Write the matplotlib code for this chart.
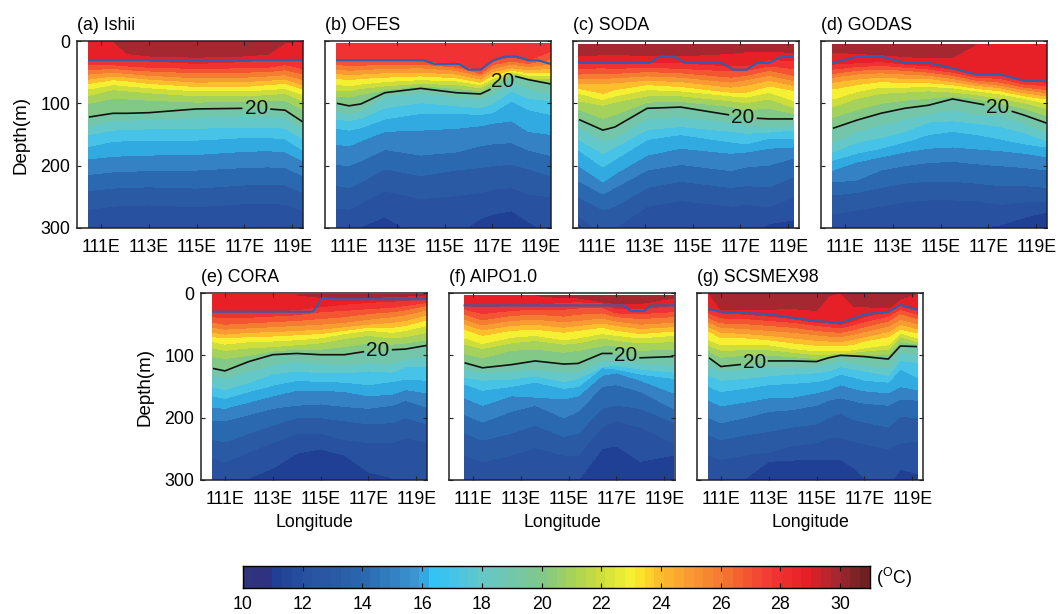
import numpy as np
import matplotlib
matplotlib.use('Agg')
import matplotlib.pyplot as plt
from matplotlib.colors import LinearSegmentedColormap, ListedColormap, BoundaryNorm

plt.rcParams['font.family'] = ['Liberation Sans', 'DejaVu Sans']
plt.rcParams['mathtext.default'] = 'regular'

FIG_W, FIG_H = 1059, 614
FS = 12.8

# isotherm levels of the table rows, from warm (top) to cold (bottom)
LEVELS = [30, 29, 28, 27, 26, 25, 24, 23, 22, 21, 20, 19, 18, 17, 16, 15, 14, 13, 12]

A_LON = [110.5, 111.5, 112.1, 113, 115, 117, 118, 118.7, 119.45]
A_DEPTH = [
    [0, 0, 20, 24, 26, 24, 21, 3, 0],
    [29, 29, 30, 32, 36, 33, 30, 29, 29],
    [38, 38, 40, 42, 44, 43, 42, 38, 44],
    [46, 44, 46, 48, 51, 50, 49, 46, 53],
    [53, 50, 52, 55, 59, 58, 56, 54, 62],
    [61, 56, 58, 61, 66, 65, 63, 61, 70],
    [68, 62, 64, 68, 73, 73, 70, 68, 77],
    [77, 70, 72, 75, 80, 80, 78, 76, 86],
    [87, 78, 80, 83, 88, 88, 86, 84, 96],
    [100, 92, 93, 95, 98, 97, 96, 95, 110],
    [122, 116, 116, 115, 109, 108, 109, 111, 130],
    [136, 128, 127, 126, 122, 120, 121, 122, 142],
    [150, 143, 142, 141, 140, 138, 138, 140, 157],
    [169, 161, 160, 160, 159, 155, 155, 157, 175],
    [189, 185, 184, 183, 182, 177, 176, 178, 192],
    [214, 210, 209, 208, 207, 203, 202, 203, 216],
    [240, 236, 235, 234, 236, 231, 230, 231, 243],
    [270, 265, 264, 263, 266, 261, 260, 262, 272],
    [325, 325, 325, 325, 325, 325, 325, 325, 325],
]
A_MLD_LON = [110.5, 119.45]
A_MLD = [30, 30]

B_LON = [110.5, 111, 111.5, 112.5, 114, 115.5, 116.5, 117, 117.8, 118.5, 119.45]
B_DEPTH = [
    [0, 0, 0, 0, 0, 0, 0, 0, 0, 0, 0],
    [0, 0, 0, 0, 0, 0, 0, 0, 0, 0, 0],
    [31, 31, 31, 31, 31, 37, 47, 32, 25, 31, 16],
    [38, 39, 39, 37, 37, 42, 52, 38, 32, 36, 29],
    [45, 47, 46, 44, 43, 47, 56, 44, 37, 41, 37],
    [52, 54, 53, 51, 50, 53, 61, 49, 43, 46, 44],
    [60, 62, 60, 58, 56, 59, 66, 55, 47, 51, 51],
    [69, 72, 69, 65, 62, 64, 70, 60, 49, 55, 56],
    [79, 80, 76, 72, 68, 70, 75, 65, 52, 59, 61],
    [89, 90, 86, 78, 72, 76, 80, 70, 53, 61, 67],
    [100, 104, 101, 83, 76, 83, 85, 76, 55, 62, 69],
    [113, 117, 112, 89, 83, 90, 92, 85, 67, 76, 85],
    [125, 128, 124, 107, 99, 104, 107, 100, 80, 92, 96],
    [140, 143, 139, 125, 116, 116, 118, 115, 96, 110, 118],
    [166, 168, 160, 145, 143, 140, 136, 132, 128, 145, 150],
    [198, 200, 192, 174, 183, 178, 168, 165, 163, 175, 184],
    [232, 235, 226, 205, 216, 207, 203, 200, 198, 205, 216],
    [268, 270, 260, 240, 253, 248, 243, 238, 235, 245, 250],
    [320, 320, 298, 282, 315, 310, 285, 278, 272, 290, 310],
]
B_MLD_LON = [110.5, 114.1, 114.6, 115.6, 116, 116.5, 117, 117.5, 118, 118.5, 118.9, 119.45]
B_MLD = [31, 31, 37, 37, 46, 46, 32, 25, 25, 31, 31, 37]

C_LON = [110.25, 111.25, 111.75, 113.1, 114.5, 116.6, 117.25, 118.2, 119.2]
C_DEPTH = [
    [24, 22, 22, 23, 24, 20, 17, 17, 18],
    [36, 35, 36, 34, 35, 40, 40, 30, 31],
    [44, 43, 44, 42, 44, 48, 47, 40, 44],
    [53, 52, 52, 49, 51, 58, 55, 47, 55],
    [60, 60, 59, 56, 58, 66, 62, 55, 63],
    [68, 68, 67, 63, 65, 74, 71, 63, 71],
    [76, 84, 78, 70, 73, 82, 82, 72, 79],
    [84, 94, 88, 78, 80, 88, 90, 82, 95],
    [96, 103, 98, 88, 88, 96, 99, 93, 106],
    [110, 124, 118, 98, 97, 105, 110, 108, 116],
    [126, 143, 138, 108, 106, 119, 123, 125, 125],
    [138, 159, 155, 124, 121, 131, 135, 138, 135],
    [158, 180, 170, 142, 137, 145, 148, 146, 143],
    [175, 202, 190, 158, 150, 162, 165, 156, 156],
    [200, 226, 213, 183, 172, 180, 178, 172, 170],
    [225, 245, 235, 207, 198, 208, 202, 199, 188],
    [250, 271, 265, 235, 225, 235, 232, 234, 218],
    [280, 310, 300, 265, 256, 265, 262, 266, 250],
    [293, 330, 330, 315, 310, 310, 310, 293, 287],
]
C_MLD_LON = [110.25, 113.2, 113.6, 114.2, 114.7, 116.2, 116.7, 117.25, 117.7, 118.2, 118.7, 119.2]
C_MLD = [35, 35, 25, 25, 35, 35, 46, 46, 35, 35, 25, 25]

D_LON = [110.5, 111.5, 112.5, 113.5, 114.5, 115.5, 116.5, 117.5, 118.5, 119.45]
D_DEPTH = [
    [18, 20, 22, 25, 27, 26, 0, 0, 0, 0],
    [37, 35, 33, 37, 40, 45, 53, 54, 64, 66],
    [45, 41, 39, 42, 45, 50, 58, 60, 69, 72],
    [52, 47, 45, 47, 50, 55, 63, 66, 74, 78],
    [58, 53, 51, 53, 55, 60, 67, 71, 78, 83],
    [66, 61, 58, 60, 60, 65, 71, 75, 83, 88],
    [77, 70, 65, 67, 67, 70, 76, 80, 88, 93],
    [93, 81, 74, 74, 73, 75, 80, 85, 92, 100],
    [105, 92, 84, 82, 80, 82, 86, 92, 99, 108],
    [122, 110, 100, 95, 92, 88, 93, 100, 108, 120],
    [140, 127, 116, 108, 103, 93, 100, 107, 119, 132],
    [162, 145, 135, 125, 117, 110, 118, 120, 132, 147],
    [178, 162, 155, 145, 130, 128, 132, 137, 147, 160],
    [191, 180, 172, 162, 150, 145, 150, 157, 165, 170],
    [207, 194, 186, 178, 172, 170, 173, 176, 180, 186],
    [226, 223, 207, 200, 195, 193, 197, 200, 203, 207],
    [247, 243, 235, 228, 225, 225, 228, 232, 232, 235],
    [277, 271, 265, 258, 255, 255, 256, 262, 258, 258],
    [314, 309, 305, 305, 305, 305, 300, 295, 283, 274],
]
D_MLD_LON = D_LON
D_MLD = [35, 25, 25, 35, 35, 44, 54, 54, 64, 64]

E_LON = [110.5, 111, 112, 113, 114, 115, 116, 117, 118, 118.55, 119.45]
E_DEPTH = [
    [0, 0, 0, 0, 2, 7, 8, 7, 6, 5, 0],
    [29, 30, 30, 28, 27, 22, 18, 15, 13, 12, 8],
    [38, 40, 39, 37, 35, 30, 28, 25, 23, 20, 15],
    [47, 50, 48, 46, 44, 41, 38, 33, 30, 27, 20],
    [55, 58, 56, 54, 52, 50, 47, 42, 38, 35, 27],
    [63, 66, 63, 62, 60, 58, 54, 50, 47, 44, 35],
    [70, 72, 70, 69, 67, 65, 60, 55, 55, 52, 43],
    [78, 82, 78, 77, 75, 72, 65, 60, 63, 60, 52],
    [88, 92, 88, 86, 83, 80, 73, 68, 72, 70, 63],
    [102, 105, 100, 93, 90, 90, 86, 80, 82, 80, 75],
    [121, 125, 110, 99, 97, 99, 99, 93, 91, 90, 84],
    [132, 137, 125, 115, 110, 113, 115, 112, 113, 105, 102],
    [150, 155, 143, 130, 125, 128, 128, 125, 127, 118, 118],
    [165, 169, 158, 148, 140, 142, 143, 147, 142, 138, 140],
    [183, 185, 175, 165, 156, 156, 158, 165, 162, 155, 160],
    [205, 205, 195, 185, 180, 178, 182, 185, 180, 172, 183],
    [235, 239, 225, 212, 200, 200, 205, 210, 208, 200, 210],
    [265, 271, 255, 240, 225, 225, 235, 240, 240, 232, 240],
    [320, 320, 297, 281, 257, 250, 260, 287, 297, 310, 310],
]
E_MLD_LON = [110.5, 114.65, 114.8, 115, 115.1, 115.5, 119.45]
E_MLD = [30, 30, 24, 11, 8, 10, 10]

F_LON = [110.65, 111.4, 112.6, 113.6, 114.8, 115.4, 116.4, 117, 118, 119.38]
F_DEPTH = [
    [0, 0, 0, 0, 8, 8, 14, 17, 17, 8],
    [20, 22, 20, 18, 15, 14, 16, 25, 25, 20],
    [26, 33, 28, 26, 26, 24, 23, 32, 33, 30],
    [34, 43, 36, 34, 37, 34, 32, 38, 41, 38],
    [42, 51, 44, 42, 46, 44, 40, 45, 50, 47],
    [50, 59, 52, 50, 55, 52, 48, 52, 57, 54],
    [58, 68, 60, 58, 63, 60, 55, 60, 65, 61],
    [72, 81, 71, 68, 75, 72, 65, 68, 72, 68],
    [82, 89, 80, 76, 82, 80, 72, 76, 80, 78],
    [97, 104, 92, 90, 95, 92, 85, 85, 92, 90],
    [112, 120, 115, 109, 114, 113, 97, 97, 104, 102],
    [122, 128, 125, 122, 128, 126, 108, 108, 113, 116],
    [135, 140, 138, 133, 142, 137, 118, 116, 122, 127],
    [146, 156, 150, 143, 153, 150, 120, 122, 130, 137],
    [168, 180, 165, 167, 170, 165, 132, 128, 140, 160],
    [195, 207, 190, 180, 200, 190, 150, 147, 158, 185],
    [225, 236, 225, 212, 230, 225, 185, 180, 185, 207],
    [260, 271, 260, 248, 260, 260, 215, 205, 215, 240],
    [310, 310, 310, 310, 310, 300, 250, 245, 270, 260],
]
F_MLD_LON = [110.65, 117.3, 117.6, 118.15, 118.45, 119.38]
F_MLD = [20, 20, 29, 29, 20, 20]

G_LON = [110.5, 111, 112, 113, 114, 115, 115.5, 116, 116.55, 117, 118, 118.5, 119.2]
G_DEPTH = [
    [0, 27, 27, 26, 25, 28, 5, 0, 21, 22, 24, 10, 0],
    [24, 32, 34, 37, 41, 47, 48, 50, 45, 38, 30, 20, 27],
    [32, 40, 41, 44, 47, 52, 54, 56, 51, 46, 37, 26, 34],
    [40, 48, 49, 52, 55, 60, 62, 63, 59, 54, 45, 33, 41],
    [47, 55, 57, 60, 63, 67, 69, 70, 66, 62, 53, 42, 49],
    [54, 63, 65, 68, 72, 76, 77, 78, 74, 70, 62, 50, 57],
    [61, 72, 72, 75, 80, 84, 85, 85, 82, 77, 70, 58, 64],
    [75, 83, 83, 83, 89, 93, 93, 93, 91, 88, 83, 64, 72],
    [84, 92, 91, 91, 95, 99, 98, 97, 95, 93, 90, 70, 78],
    [93, 103, 100, 100, 102, 105, 102, 99, 98, 98, 98, 78, 82],
    [104, 118, 114, 109, 109, 110, 104, 100, 101, 102, 106, 85, 86],
    [118, 125, 122, 118, 118, 117, 113, 108, 112, 115, 120, 95, 100],
    [132, 140, 137, 133, 130, 128, 125, 118, 122, 125, 132, 108, 112],
    [150, 158, 153, 147, 145, 142, 138, 130, 135, 140, 143, 122, 135],
    [172, 181, 175, 168, 167, 160, 155, 147, 153, 157, 160, 150, 155],
    [200, 208, 200, 190, 187, 180, 172, 168, 173, 177, 180, 170, 172],
    [228, 235, 228, 222, 215, 210, 200, 192, 203, 207, 215, 198, 200],
    [260, 267, 260, 255, 245, 240, 232, 232, 238, 242, 250, 240, 238],
    [310, 315, 298, 270, 268, 267, 267, 267, 280, 296, 310, 282, 290],
]
G_MLD_LON = [110.5, 111, 112, 113, 114, 115, 116, 117, 118, 118.5, 119.2]
G_MLD = [26, 30, 32, 34, 40, 45, 48, 34, 30, 19, 27]

PANELS = [
    ('(a) Ishii', 77, 41, A_LON, A_DEPTH, A_MLD_LON, A_MLD, 0, (117.5, 108)),
    ('(b) OFES', 325, 41, B_LON, B_DEPTH, B_MLD_LON, B_MLD, 3.5, (117.4, 62)),
    ('(c) SODA', 573, 41, C_LON, C_DEPTH, C_MLD_LON, C_MLD, 5, (117.1, 123)),
    ('(d) GODAS', 821, 41, D_LON, D_DEPTH, D_MLD_LON, D_MLD, 5, (117.4, 108)),
    ('(e) CORA', 201, 293, E_LON, E_DEPTH, E_MLD_LON, E_MLD, 3, (117.4, 92)),
    ('(f) AIPO1.0', 449, 293, F_LON, F_DEPTH, F_MLD_LON, F_MLD, 4, (117.4, 99)),
    ('(g) SCSMEX98', 697, 293, G_LON, G_DEPTH, G_MLD_LON, G_MLD, 0, (112.4, 112)),
]

CB_VALUES = [10, 10.7, 11, 12, 13, 14, 15, 15.7, 16, 16.3, 17, 18, 19, 20, 21, 22, 23, 23.5,
             24, 25, 26, 27, 28, 29, 30, 31]
CB_COLORS = [(48, 52, 125), (45, 50, 130), (32, 64, 150), (40, 82, 160), (43, 90, 165),
             (42, 105, 175), (52, 130, 195), (60, 150, 210), (48, 170, 225), (50, 195, 245),
             (70, 195, 230), (100, 200, 200), (115, 198, 170), (130, 200, 135), (165, 210, 90),
             (205, 222, 60), (245, 240, 50), (255, 220, 40), (253, 190, 45), (248, 155, 50),
             (245, 125, 50), (243, 85, 50), (240, 50, 50), (230, 32, 38), (165, 40, 48),
             (110, 32, 35)]
CB_TICKS = list(range(10, 31, 2))
XTICKS = [111, 113, 115, 117, 119]
XTICKLABELS = ['111E', '113E', '115E', '117E', '119E']
YTICKS = [0, 100, 200, 300]

cmap = LinearSegmentedColormap.from_list(
    'cb', [((v - 10) / 21, tuple(c / 255 for c in col)) for v, col in zip(CB_VALUES, CB_COLORS)], N=64)

bounds = np.arange(10, 32)
band_cols = [cmap((b - 10) / 21) for b in bounds[:-1]]
band_cmap = ListedColormap(band_cols)
band_norm = BoundaryNorm(bounds, band_cmap.N)


def px_axes(fig, left, top, w, h):
    return fig.add_axes([left / FIG_W, 1 - (top + h) / FIG_H, w / FIG_W, h / FIG_H])


def style(ax):
    ax.tick_params(which='both', direction='in', length=3, width=0.8, top=True, right=True,
                   labelsize=FS, color='#222222')
    ax.tick_params(axis='x', pad=8)
    ax.tick_params(axis='y', pad=5)
    for s in ax.spines.values():
        s.set_linewidth(1.1)
        s.set_color('#222222')


fig = plt.figure(figsize=(FIG_W / 100, FIG_H / 100), dpi=100)

for i, (title, left, top, lon, depth, mld_lon, mld, top_d, lab) in enumerate(PANELS):
    ax = px_axes(fig, left, top, 226, 187)
    lon = np.asarray(lon, float)
    rows = np.asarray(depth, float)
    # surface row on top, a cold closing row below the plotted range
    Y = np.vstack([np.full(lon.size, 0.0), rows, np.maximum(rows[-1], 330) + 15])
    Y = np.maximum.accumulate(np.maximum(Y, top_d), axis=0)
    z = [31] + LEVELS + [11]
    Z = np.repeat(np.asarray(z, float)[:, None], lon.size, axis=1)
    X = np.repeat(lon[None, :], len(z), axis=0)
    ax.contourf(X, Y, Z, levels=bounds, cmap=band_cmap, norm=band_norm)
    cs = ax.contour(X, Y, Z, levels=[20], colors='#111111', linewidths=1.2)
    labels = ax.clabel(cs, fmt='%d', fontsize=15, manual=[lab], inline=True, inline_spacing=3)
    for t in labels:
        t.set_rotation(0)
    ax.plot(mld_lon, mld, color='#2f5fae', lw=1.5)
    ax.set_xlim(110, 119.45)
    ax.set_ylim(300, 0)
    ax.set_xticks(XTICKS, XTICKLABELS)
    ax.set_yticks(YTICKS)
    style(ax)
    if i not in (0, 4):
        ax.set_yticklabels([])
    else:
        ax.set_ylabel('Depth(m)', fontsize=FS + 0.7, labelpad=7.5)
    if i >= 4:
        ax.set_xlabel('Longitude', fontsize=FS, labelpad=4)
    ax.text(0.0, 1.035, title, transform=ax.transAxes, fontsize=FS, ha='left', va='bottom')

cax = px_axes(fig, 243, 566, 627, 22)
edges = np.linspace(10, 31, 65)
centers = 0.5 * (edges[:-1] + edges[1:])
cax.pcolormesh(edges, [0, 1], centers[None, :], cmap=cmap, vmin=10, vmax=31)
cax.set_xlim(10, 31)
cax.set_ylim(0, 1)
cax.set_yticks([])
cax.set_xticks(CB_TICKS)
cax.tick_params(axis='x', direction='in', length=3.5, width=0.8, top=True, labelsize=FS, pad=6, color='#111111')
for s in cax.spines.values():
    s.set_linewidth(1.0)
cax.text(31.2, 0.45, r'($^{O}$C)', fontsize=FS, ha='left', va='center')

fig.savefig('out.png', dpi=100)
